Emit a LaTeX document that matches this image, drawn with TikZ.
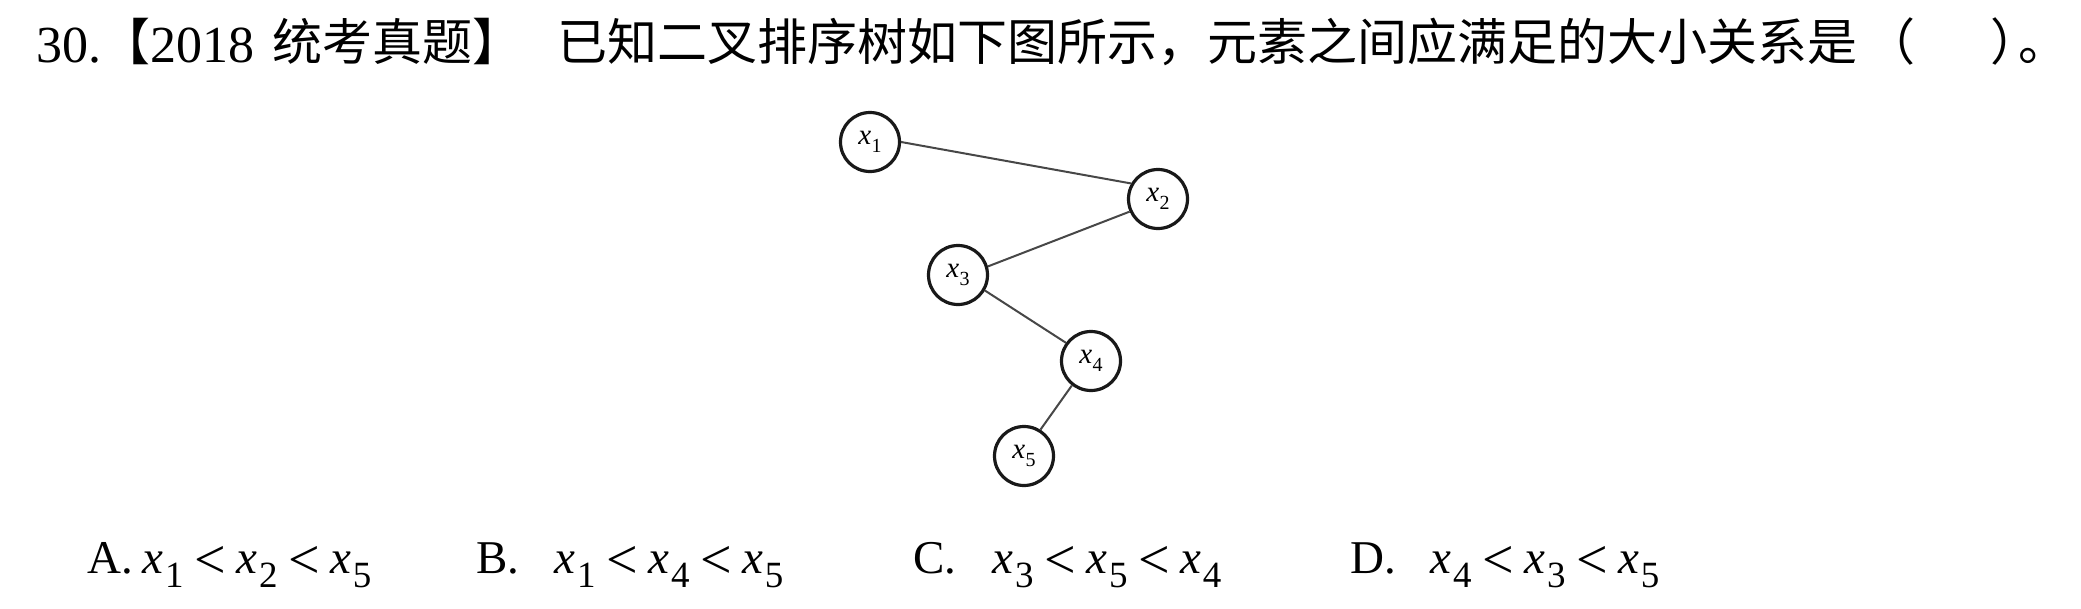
\documentclass[tikz,border=0pt]{standalone}
\usepackage{fontspec}
\setmainfont{Liberation Serif}
\newfontfamily\cjk{Noto Sans CJK SC}
\newcommand\opx[1]{\textit{x}\kern2pt\raisebox{-14pt}{\fontsize{37}{37}\selectfont #1}}
\newcommand\ndx[1]{\textit{x}\kern0.5pt\raisebox{-8pt}{\fontsize{20}{20}\selectfont #1}}
\newcommand\lessop{\hspace{11pt}\raisebox{-5pt}{\fontsize{56}{56}\selectfont <}\hspace{10pt}}
\begin{document}
\begin{tikzpicture}[x=1pt,y=-1pt,
  tl/.style={anchor=base west,inner sep=0pt,font=\fontsize{52}{56}\selectfont},
  cj/.style={anchor=base west,inner sep=0pt,font=\cjk\fontsize{50}{56}\selectfont},
  opt/.style={anchor=base west,inner sep=0pt,font=\fontsize{47}{50}\selectfont},
  vtx/.style={circle,draw=black!90,line width=3.2pt,minimum size=59pt,inner sep=0pt,font=\fontsize{29}{30}\selectfont},
  edge/.style={draw=black!72,line width=2pt}]
\useasboundingbox (0,0) rectangle (2081,608);
% title
\node[tl] (n30) at (36,62) {30.};
\node[cj] (lb) at (100,60) {【};
\node[tl] (yr) at (150,62) {2018};
\node[cj] (tag) at (272,60) {统考真题】};
\node[cj] (q) at (557,60) {已知二叉排序树如下图所示，元素之间应满足的大小关系是};
\node[cj] (lp) at (1865,60) {（};
\node[cj] (rp) at (1990,60) {）};
\node[cj] (pd) at (2018,60) {。};
% tree
\node[vtx] (x1) at (870,142) {\ndx1};
\node[vtx] (x2) at (1158,199) {\ndx2};
\node[vtx] (x3) at (958,275) {\ndx3};
\node[vtx] (x4) at (1091,361) {\ndx4};
\node[vtx] (x5) at (1024,456) {\ndx5};
\draw[edge] (x1.east) -- (x2.150);
\draw[edge] (x2.204) -- (x3.16);
\draw[edge] (x3.-30) -- (x4.144);
\draw[edge] (x4.232) -- (x5.58);
% options
\node[opt] (A) at (87,573) {A.};
\node[opt] (Am) at (142,573) {\opx1\lessop\opx2\lessop\opx5};
\node[opt] (B) at (476,573) {B.};
\node[opt] (Bm) at (554,573) {\opx1\lessop\opx4\lessop\opx5};
\node[opt] (C) at (913,573) {C.};
\node[opt] (Cm) at (992,573) {\opx3\lessop\opx5\lessop\opx4};
\node[opt] (D) at (1350,573) {D.};
\node[opt] (Dm) at (1430,573) {\opx4\lessop\opx3\lessop\opx5};
\end{tikzpicture}
\end{document}
